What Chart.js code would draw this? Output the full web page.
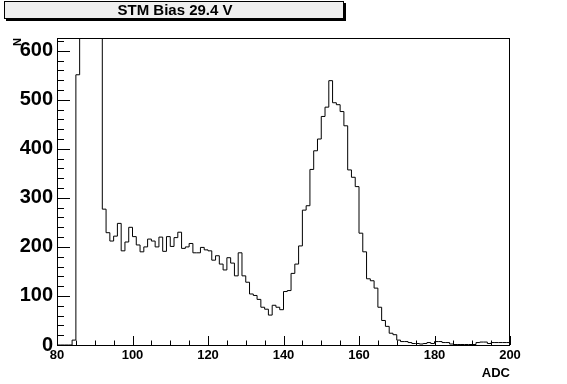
<!DOCTYPE html>
<html><head><meta charset="utf-8">
<script src="https://cdn.jsdelivr.net/npm/chart.js@4/dist/chart.umd.min.js"></script>
<style>html,body{margin:0;padding:0;background:#fff}#wrap{width:567px;height:384px}</style>
</head><body><div id="wrap"><canvas id="c" width="567" height="384"></canvas></div>
<script>
// ---- data ----
const chartTitle = 'STM Bias 29.4 V';
const xAxisTitle = 'ADC';
const yAxisTitle = 'N';
const binLow = 80;      // first bin lower edge (ADC)
const binWidth = 1;     // ADC per bin
// counts per bin, ADC 80..199 (bins 86-91 are off-scale in the picture; estimated)
const counts = [
  0, 0, 0, 0, 10, 551, 1200, 1900, 2200, 1800,
  1300, 820, 277, 229, 212, 222, 248, 192, 210, 240,
  221, 204, 190, 200, 216, 212, 200, 220, 191, 221,
  201, 219, 230, 197, 200, 207, 188, 188, 199, 194,
  192, 173, 182, 165, 153, 178, 167, 141, 188, 141,
  128, 104, 101, 93, 77, 73, 61, 81, 77, 72,
  109, 111, 146, 165, 202, 275, 284, 358, 396, 420,
  466, 485, 539, 494, 490, 476, 447, 357, 342, 323,
  228, 190, 135, 131, 116, 77, 50, 38, 24, 21,
  10, 7, 7, 5, 3, 3, 2, 3, 5, 3,
  7, 7, 5, 5, 2, 1, 1, 1, 1, 1,
  1, 5, 6, 6, 3, 5, 5, 5, 5, 5
];
const xTickLabels = [80, 100, 120, 140, 160, 180, 200];
const yTickLabels = [0, 100, 200, 300, 400, 500, 600];
const xRange = [80, 200];
const yRange = [0, 626];

// ---- build step points from bins ----
const points = counts.map((v, i) => ({ x: binLow + i * binWidth, y: v }));
points.push({ x: binLow + counts.length * binWidth, y: counts[counts.length - 1] });

const FONT = '"Liberation Sans", Arial, sans-serif';

const rootFrame = {
  id: 'rootFrame',
  beforeDraw(chart) {
    const ctx = chart.ctx;
    ctx.save();
    ctx.fillStyle = '#fff';
    ctx.fillRect(0, 0, chart.width, chart.height);
    // title pave with shadow
    ctx.fillStyle = '#000';
    ctx.fillRect(6, 3, 340, 18);
    ctx.fillStyle = '#efefef';
    ctx.fillRect(4, 1, 340, 18);
    ctx.strokeStyle = '#000';
    ctx.lineWidth = 1;
    ctx.strokeRect(4.5, 1.5, 339, 17);
    ctx.fillStyle = '#000';
    ctx.font = 'bold 15px ' + FONT;
    ctx.textAlign = 'center';
    ctx.textBaseline = 'middle';
    ctx.fillText(chartTitle, 175, 10.5);
    ctx.restore();
  },
  afterDraw(chart) {
    const { ctx, chartArea: a, scales: { x, y } } = chart;
    ctx.save();
    ctx.strokeStyle = '#000';
    ctx.lineWidth = 1;
    ctx.strokeRect(Math.round(a.left) + 0.5, Math.round(a.top) + 0.5,
      Math.round(a.right - a.left) - 1, Math.round(a.bottom - a.top));
    ctx.beginPath();
    for (let v = yRange[0]; v <= yRange[1]; v += 20) {
      const py = Math.round(y.getPixelForValue(v)) + 0.5;
      const len = (v % 100 === 0) ? 13 : 7;
      ctx.moveTo(a.left, py); ctx.lineTo(a.left + len, py);
    }
    for (let v = xRange[0]; v <= xRange[1]; v += 5) {
      const px = Math.round(x.getPixelForValue(v)) + 0.5;
      const len = (v % 20 === 0) ? 9 : 4.5;
      ctx.moveTo(px, a.bottom); ctx.lineTo(px, a.bottom - len);
    }
    ctx.stroke();
    // y-axis title, rotated, at the top-left
    ctx.fillStyle = '#000';
    ctx.font = 'bold 11px ' + FONT;
    ctx.translate(18, a.top);
    ctx.rotate(-Math.PI / 2);
    ctx.textAlign = 'right';
    ctx.textBaseline = 'middle';
    ctx.fillText(yAxisTitle, 0, 0);
    ctx.restore();
  }
};

new Chart(document.getElementById('c'), {
  type: 'line',
  data: { datasets: [{
    data: points,
    stepped: 'before',
    borderColor: '#000',
    borderWidth: 1,
    pointRadius: 0,
    fill: false,
    tension: 0
  }] },
  options: {
    responsive: false,
    animation: false,
    devicePixelRatio: 1,
    layout: { padding: { left: 0, right: 57, top: 38, bottom: 0 } },
    plugins: { legend: { display: false }, tooltip: { enabled: false }, title: { display: false } },
    scales: {
      x: {
        type: 'linear', min: xRange[0], max: xRange[1],
        grid: { display: false, drawTicks: false }, border: { display: false },
        afterBuildTicks: s => { s.ticks = xTickLabels.map(v => ({ value: v })); },
        afterFit: s => { s.height = 39; },
        ticks: { color: '#000', padding: 3, maxRotation: 0, autoSkip: false,
          font: { family: FONT, size: 13, weight: 'bold' } },
        title: { display: true, text: xAxisTitle, align: 'end', color: '#000',
          padding: { top: 0, bottom: 3 },
          font: { family: FONT, size: 13, weight: 'bold' } }
      },
      y: {
        type: 'linear', min: yRange[0], max: yRange[1],
        grid: { display: false, drawTicks: false }, border: { display: false },
        afterBuildTicks: s => { s.ticks = yTickLabels.map(v => ({ value: v })); },
        afterFit: s => { s.width = 57; },
        ticks: { color: '#000', padding: 4, autoSkip: false,
          font: { family: FONT, size: 20, weight: 'bold' } },
        title: { display: false }
      }
    }
  },
  plugins: [rootFrame]
});
</script></body></html>
